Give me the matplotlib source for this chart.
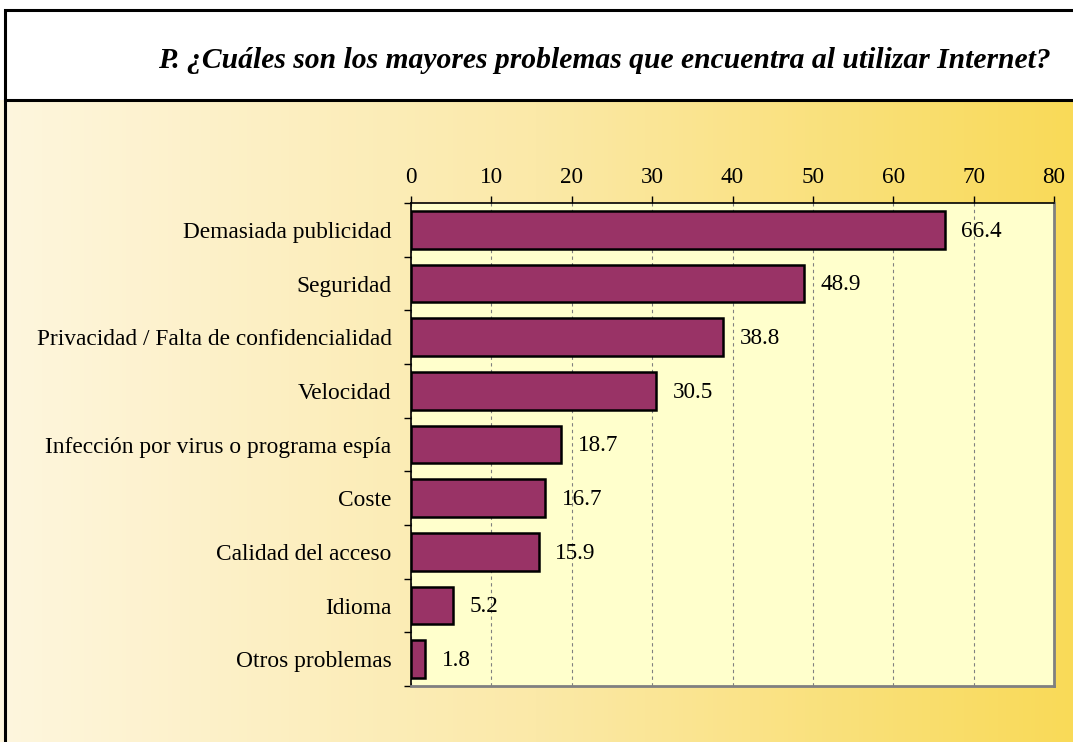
import numpy as np
import matplotlib
matplotlib.use('Agg')
import matplotlib.pyplot as plt
from matplotlib.colors import LinearSegmentedColormap
from matplotlib.patches import Rectangle
from matplotlib.lines import Line2D

plt.rcParams['font.family'] = ['Liberation Serif', 'DejaVu Serif']

# datos
categorias = ['Demasiada publicidad', 'Seguridad',
              'Privacidad / Falta de confidencialidad', 'Velocidad',
              'Infección por virus o programa espía', 'Coste',
              'Calidad del acceso', 'Idioma', 'Otros problemas']
valores = [66.4, 48.9, 38.8, 30.5, 18.7, 16.7, 15.9, 5.2, 1.8]
ticks_x = [0, 10, 20, 30, 40, 50, 60, 70, 80]
titulo = 'P. ¿Cuáles son los mayores problemas que encuentra al utilizar Internet?'

fig = plt.figure(figsize=(10.73, 7.42), dpi=100)
fig.patch.set_facecolor('white')

# fondo degradado
bg = fig.add_axes([0, 0, 1, 1 - 100 / 742])
cmap = LinearSegmentedColormap.from_list('fondo', ['#FEF6DE', '#FBE9A8', '#F9DA58'])
grad = np.linspace(0, 1, 256).reshape(1, -1)
bg.imshow(grad, aspect='auto', cmap=cmap, extent=[0, 1, 0, 1])
bg.set_xlim(0, 1)
bg.set_ylim(0, 1)
bg.axis('off')

# recuadro del título
fig.patches.append(Rectangle((5 / 1073, 1 - 100 / 742), 1.2, 90 / 742,
                             transform=fig.transFigure, facecolor='white',
                             edgecolor='black', linewidth=2.2, zorder=5))
fig.lines.append(Line2D([5 / 1073, 5 / 1073], [0, 1 - 100 / 742],
                        transform=fig.transFigure, color='black', linewidth=2.2))
fig.text(604 / 1073, 1 - 61 / 742, titulo, ha='center', va='center', fontsize=21.3,
         fontweight='bold', fontstyle='italic', zorder=6)

# gráfico de barras
ax = fig.add_axes([411 / 1073, 1 - 686 / 742, 643 / 1073, 483 / 742])
ax.set_facecolor('#FFFFCC')
y = np.arange(len(categorias))
ax.barh(y, valores, height=0.7, color='#993366', edgecolor='black', linewidth=1.8, zorder=3)
for yi, v in zip(y, valores):
    ax.annotate('%.1f' % v, (v, yi), xytext=(12, -1), textcoords='offset points',
                ha='left', va='center', fontsize=16.7, zorder=4)

ax.set_xlim(0, 80)
ax.set_ylim(len(categorias) - 0.5, -0.5)
ax.xaxis.tick_top()
ax.set_xticks(ticks_x)
ax.set_xticklabels([str(t) for t in ticks_x], fontsize=16.7)
ax.tick_params(axis='x', direction='out', length=5, width=1, pad=6)
ax.set_yticks(y)
ax.set_yticklabels(categorias, fontsize=16.8)
ax.tick_params(axis='y', which='major', length=0, pad=14)
ax.set_yticks(np.arange(-0.5, len(categorias), 1), minor=True)
ax.tick_params(axis='y', which='minor', direction='out', length=5, width=1)
ax.grid(axis='x', linestyle=(0, (3, 3)), color='#808080', linewidth=0.8, zorder=1)

ax.spines['left'].set_color('black')
ax.spines['top'].set_color('black')
ax.spines['left'].set_linewidth(1.2)
ax.spines['top'].set_linewidth(1.2)
ax.spines['right'].set_color('#808080')
ax.spines['bottom'].set_color('#808080')
ax.spines['right'].set_linewidth(2)
ax.spines['bottom'].set_linewidth(2)

fig.savefig('out.png', dpi=100)
